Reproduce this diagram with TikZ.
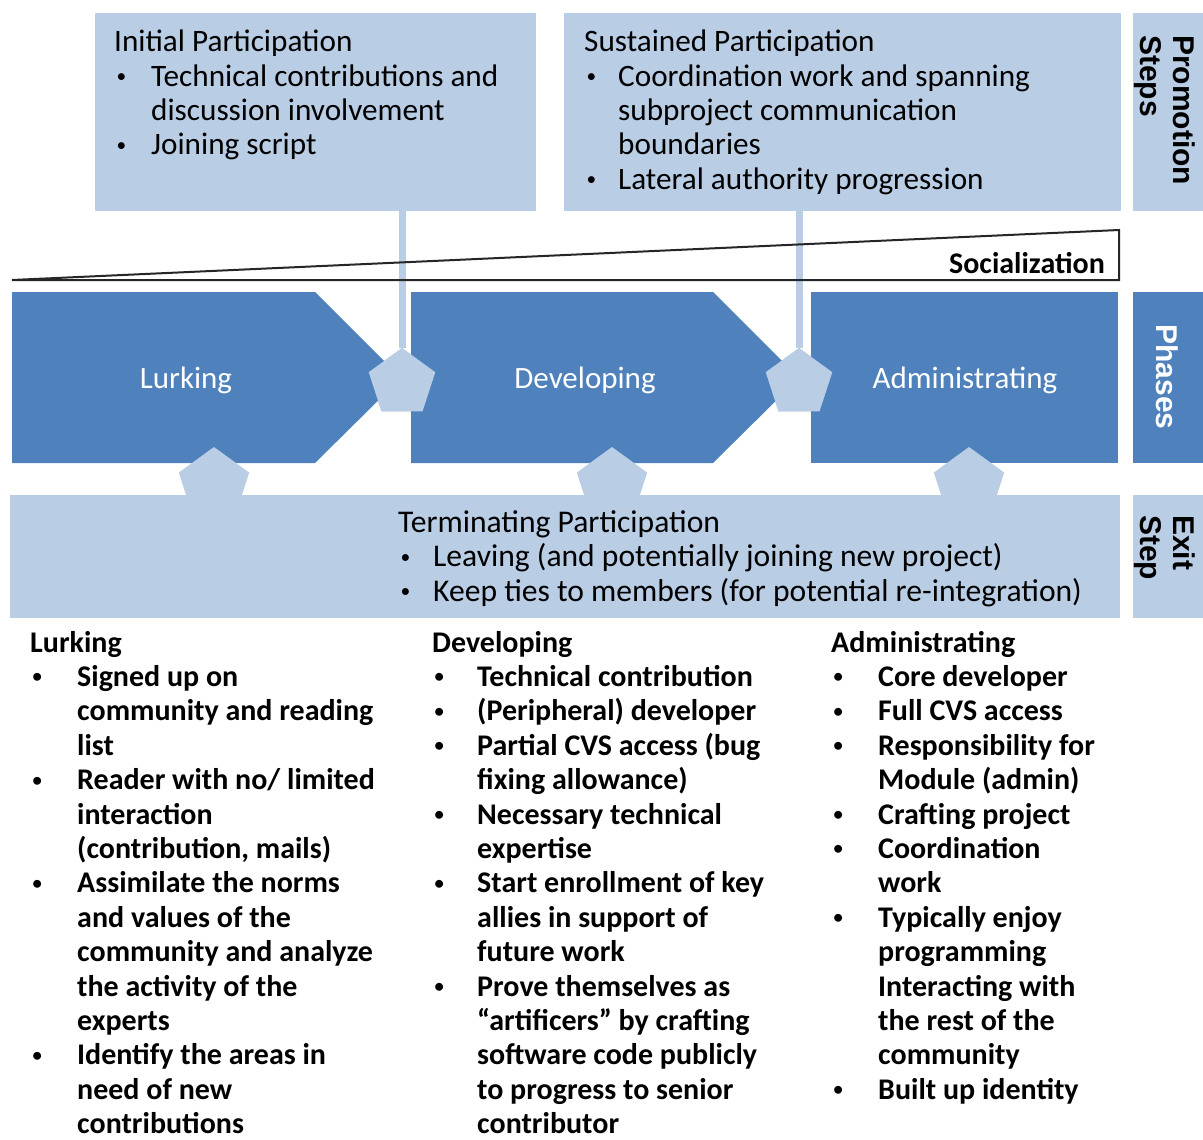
\documentclass[tikz,border=0pt]{standalone}
\usepackage{fontspec}
\usepackage{graphicx}
\setmainfont{Carlito}
\newfontfamily\sidefont{Liberation Sans}
\usetikzlibrary{shapes.geometric}
\definecolor{dkblue}{HTML}{4F81BD}
\definecolor{ltblue}{HTML}{B9CDE5}
\newcommand{\BL}[1]{\makebox[#1][l]{\hspace{2.5pt}\raisebox{3.5pt}{\scalebox{0.62}{\textbullet}}}}
\newcommand{\CI}[1]{\hspace*{#1}}
\newcommand{\Lines}[2]{\vtop{\baselineskip=#1\relax\lineskiplimit=-\maxdimen\lineskip=0pt\relax\halign{##\hfil\cr#2\crcr}}}
\begin{document}
\begin{tikzpicture}[x=1pt,y=-1pt,
  lightbox/.style={fill=ltblue, draw=none, inner sep=0, outer sep=0, anchor=north west},
  darkbox/.style={fill=dkblue, draw=none, inner sep=0, outer sep=0, anchor=north west},
  pent/.style={regular polygon, regular polygon sides=5, fill=ltblue, draw=none, inner sep=0, outer sep=0},
  conn/.style={draw=ltblue, line width=7pt},
  socline/.style={draw=black!85, line width=2pt, line join=miter},
  body/.style={inner sep=0, anchor=base west, font=\fontsize{31.2}{34.3}\selectfont},
  bodyt/.style={inner sep=0, anchor=base west, font=\fontsize{31.6}{34.5}\selectfont},
  bodyb/.style={inner sep=0, anchor=base west, font=\bfseries\fontsize{30}{34.4}\selectfont},
  phlabel/.style={inner sep=0, anchor=base, text=white, font=\fontsize{31}{37}\selectfont},
  side/.style={inner sep=0, rotate=-90, font=\sidefont\bfseries\fontsize{30}{33}\selectfont},
]
\useasboundingbox (0,0) rectangle (1203,1140);

% promotion steps row
\node[lightbox, minimum width=441, minimum height=198] (ib) at (95,13) {};
\node[lightbox, minimum width=557, minimum height=198] (sb) at (564,13) {};
\node[lightbox, minimum width=70, minimum height=198] (ps) at (1133,13) {};

% pentagons on the phase boundaries and their connectors
\node[pent, minimum size=70] (p1) at (402,383) {};
\node[pent, minimum size=70] (p2) at (799,383) {};
\draw[conn] (p1.north |- ib.south) -- (p1.north);
\draw[conn] (p2.north |- sb.south) -- (p2.north);

% socialization wedge
\draw[socline] (12,280) -- (1119,280) -- (1119,230) -- cycle;
\node[anchor=base east, inner sep=0, font=\bfseries\fontsize{30}{36}\selectfont] (soc) at (1105,273) {Socialization};

% phases
\fill[dkblue] (12,292) -- (315,292) -- (401,378) -- (315,463) -- (12,463) -- cycle;
\fill[dkblue] (411,292) -- (713,292) -- (799,378) -- (713,463) -- (411,463) -- cycle;
\node[darkbox, minimum width=307, minimum height=171] (adm) at (811,292) {};
\node[darkbox, minimum width=70, minimum height=171] (phs) at (1133,292) {};
\node[phlabel] (lurk) at (186,388) {Lurking};
\node[phlabel] (dev) at (585,388) {Developing};
\node[phlabel] (admt) at (965,388) {Administrating};

% redraw pentagons over chevrons
\node[pent, minimum size=70] at (p1) {};
\node[pent, minimum size=70] at (p2) {};

% exit step row
\node[lightbox, minimum width=1110, minimum height=123] (ex) at (10,495) {};
\node[lightbox, minimum width=70, minimum height=123] (exs) at (1133,495) {};
\node[pent, minimum size=74] (e1) at (214,484) {};
\node[pent, minimum size=74] (e2) at (612,484) {};
\node[pent, minimum size=74] (e3) at (969,484) {};

% texts of the boxes
\node[body] (ibt) at (114,52) {\Lines{34.3pt}{%
Initial Participation\cr
\BL{37pt}Technical contributions and\cr
\CI{37pt}discussion involvement\cr
\BL{37pt}Joining script}};

\node[body] (sbt) at (584,52) {\Lines{34.3pt}{%
Sustained Participation\cr
\BL{34pt}Coordination work and spanning\cr
\CI{34pt}subproject communication\cr
\CI{34pt}boundaries\cr
\BL{34pt}Lateral authority progression}};

\node[bodyt] (ext) at (398,532) {\Lines{34.5pt}{%
Terminating Participation\cr
\BL{35pt}Leaving (and potentially joining new project)\cr
\BL{35pt}Keep ties to members (for potential re-integration)}};

% side labels
\node[side, anchor=base west] (promo) at (1173,35) {\Lines{33pt}{Promotion\cr Steps}};
\node[side, anchor=center, text=white] (phl) at (1167,377) {Phases};
\node[side, anchor=base west] (exl) at (1173,515) {\Lines{33pt}{Exit\cr Step}};

% phase descriptions
\node[bodyb] (lk) at (30,652) {\Lines{34.4pt}{%
Lurking\cr
\BL{47pt}Signed up on\cr
\CI{47pt}community and reading\cr
\CI{47pt}list\cr
\BL{47pt}Reader with no/ limited\cr
\CI{47pt}interaction\cr
\CI{47pt}(contribution, mails)\cr
\BL{47pt}Assimilate the norms\cr
\CI{47pt}and values of the\cr
\CI{47pt}community and analyze\cr
\CI{47pt}the activity of the\cr
\CI{47pt}experts\cr
\BL{47pt}Identify the areas in\cr
\CI{47pt}need of new\cr
\CI{47pt}contributions}};

\node[bodyb] (dv) at (432,652) {\Lines{34.4pt}{%
Developing\cr
\BL{45pt}Technical contribution\cr
\BL{45pt}(Peripheral) developer\cr
\BL{45pt}Partial CVS access (bug\cr
\CI{45pt}fixing allowance)\cr
\BL{45pt}Necessary technical\cr
\CI{45pt}expertise\cr
\BL{45pt}Start enrollment of key\cr
\CI{45pt}allies in support of\cr
\CI{45pt}future work\cr
\BL{45pt}Prove themselves as\cr
\CI{45pt}“artificers” by crafting\cr
\CI{45pt}software code publicly\cr
\CI{45pt}to progress to senior\cr
\CI{45pt}contributor}};

\node[bodyb] (ad) at (831,652) {\Lines{34.4pt}{%
Administrating\cr
\BL{47pt}Core developer\cr
\BL{47pt}Full CVS access\cr
\BL{47pt}Responsibility for\cr
\CI{47pt}Module (admin)\cr
\BL{47pt}Crafting project\cr
\BL{47pt}Coordination\cr
\CI{47pt}work\cr
\BL{47pt}Typically enjoy\cr
\CI{47pt}programming\cr
\CI{47pt}Interacting with\cr
\CI{47pt}the rest of the\cr
\CI{47pt}community\cr
\BL{47pt}Built up identity}};
\end{tikzpicture}
\end{document}
